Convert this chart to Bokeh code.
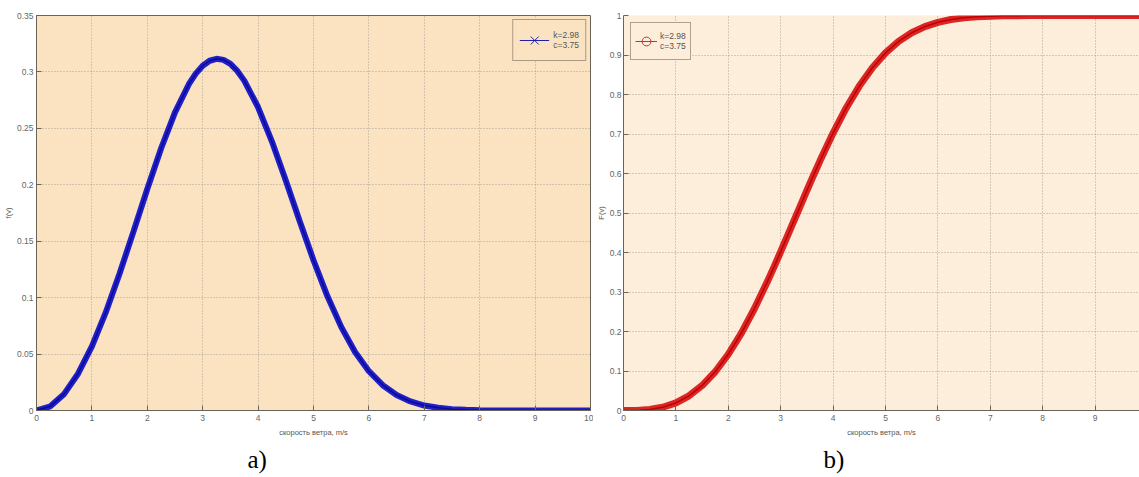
from bokeh.plotting import figure
from bokeh.layouts import row
from bokeh.models import Legend, LegendItem, Title, FixedTicker, ColumnDataSource
from bokeh.embed import file_html
from bokeh.resources import INLINE

# ---- data ----
wind_speed = [0.0, 0.25, 0.5, 0.75, 1.0, 1.25, 1.5, 1.75, 2.0, 2.25, 2.5, 2.75, 2.875, 3.0,
              3.125, 3.25, 3.375, 3.5, 3.625, 3.75, 4.0, 4.25, 4.5, 4.75, 5.0, 5.25, 5.5,
              5.75, 6.0, 6.25, 6.5, 6.75, 7.0, 7.25, 7.5, 7.75, 8.0, 8.25, 8.5, 8.75, 9.0,
              9.25, 9.5, 9.75, 10.0]
pdf_values = [0.0, 0.0037, 0.0147, 0.0326, 0.0569, 0.0869, 0.1214, 0.1585, 0.1963, 0.2324,
              0.2641, 0.2891, 0.2985, 0.3055, 0.3099, 0.3116, 0.3107, 0.3071, 0.3009, 0.2923,
              0.2687, 0.2383, 0.2038, 0.1679, 0.1331, 0.1014, 0.0741, 0.0519, 0.0348, 0.0224,
              0.0137, 0.0080, 0.0044, 0.0024, 0.0012, 0.0006, 0.0003, 0.0001, 0.0, 0.0, 0.0,
              0.0, 0.0, 0.0, 0.0]
cdf_values = [0.0, 0.0003, 0.0025, 0.0082, 0.0193, 0.0372, 0.0631, 0.0981, 0.1424, 0.1960,
              0.2582, 0.3276, 0.3643, 0.4020, 0.4406, 0.4794, 0.5183, 0.5570, 0.5950, 0.6321,
              0.7024, 0.7659, 0.8213, 0.8677, 0.9053, 0.9345, 0.9563, 0.9720, 0.9827, 0.9898,
              0.9942, 0.9969, 0.9984, 0.9992, 0.9996, 0.9998, 0.9999, 1.0, 1.0, 1.0, 1.0,
              1.0, 1.0, 1.0, 1.0]

x_ticks = [0, 1, 2, 3, 4, 5, 6, 7, 8, 9, 10]
x_tick_labels = ["0", "1", "2", "3", "4", "5", "6", "7", "8", "9", "10"]
y_ticks_a = [0, 0.05, 0.1, 0.15, 0.2, 0.25, 0.3, 0.35]
y_tick_labels_a = ["0", "0.05", "0.1", "0.15", "0.2", "0.25", "0.3", "0.35"]
y_ticks_b = [0, 0.1, 0.2, 0.3, 0.4, 0.5, 0.6, 0.7, 0.8, 0.9, 1.0]
y_tick_labels_b = ["0", "0.1", "0.2", "0.3", "0.4", "0.5", "0.6", "0.7", "0.8", "0.9", "1"]

legend_label = "k=2.98\nc=3.75"
x_label = "скорость ветра, m/s"
panel_labels = ["a)", "b)"]

SANS = "Liberation Sans"
AXIS_COL = "#6a6458"
GRID_COL = "#aaa292"


def style(p, yt, ytl, xmax, ystand):
    p.xaxis.ticker = FixedTicker(ticks=[t for t in x_ticks if t <= xmax])
    p.xaxis.major_label_overrides = {t: l for t, l in zip(x_ticks, x_tick_labels)}
    p.yaxis.ticker = FixedTicker(ticks=yt)
    p.yaxis.major_label_overrides = {t: l for t, l in zip(yt, ytl)}
    for ax in (p.xaxis[0], p.yaxis[0]):
        ax.major_tick_in = 5
        ax.major_tick_out = 0
        ax.minor_tick_line_color = None
        ax.axis_line_color = AXIS_COL
        ax.major_tick_line_color = AXIS_COL
        ax.major_label_text_font = SANS
        ax.major_label_text_font_size = "8.5px"
        ax.major_label_text_color = "#666666"
        ax.axis_label_text_font = SANS
        ax.axis_label_text_font_size = "7.5px"
        ax.axis_label_text_font_style = "normal"
        ax.axis_label_text_color = "#555555"
    p.xaxis.major_label_standoff = 4
    p.xaxis.axis_label_standoff = 4
    p.yaxis.major_label_standoff = ystand
    p.yaxis.axis_label_standoff = 1
    p.grid.grid_line_color = GRID_COL
    p.grid.grid_line_dash = "1 2"
    p.grid.grid_line_width = 1
    p.xgrid.ticker = p.xaxis.ticker
    p.ygrid.ticker = p.yaxis.ticker


def panel_title(text, offset):
    return Title(text=text, align="left", offset=offset, standoff=8,
                 text_font="Liberation Serif", text_font_size="25px",
                 text_font_style="normal", text_color="black")


src = ColumnDataSource(dict(v=wind_speed, f=pdf_values, F=cdf_values))

# ---------- panel a ----------
p1 = figure(width=593, height=477, x_range=(0, 10), y_range=(0, 0.35),
            output_backend="svg", toolbar_location=None,
            min_border_left=36, min_border_right=3, min_border_top=15, min_border_bottom=67)
p1.background_fill_color = "#fbe3c2"
p1.border_fill_color = "white"
p1.outline_line_color = AXIS_COL
style(p1, y_ticks_a, y_tick_labels_a, 10, 3)
p1.xaxis.axis_label = x_label
p1.yaxis.axis_label = "f(v)"

p1.line("v", "f", source=src, line_color="#1414c8", line_width=6, line_alpha=0.95)
p1.line("v", "f", source=src, line_color="#0a0a9a", line_width=1.5)

leg_line_a = p1.line(x=[float("nan")], y=[float("nan")], line_color="#2020a0", line_width=1)
leg_mark_a = p1.scatter(x=[float("nan")], y=[float("nan")], marker="x", size=4,
                        line_color="#2020a0", line_width=1)
leg_a = Legend(items=[LegendItem(label=legend_label, renderers=[leg_line_a, leg_mark_a])],
               location="top_right", margin=4, padding=6, spacing=0,
               glyph_width=30, glyph_height=28, label_standoff=4,
               label_text_font=SANS, label_text_font_size="8.5px", label_text_color="#555555",
               label_text_line_height=1.6,
               border_line_color="#5b5346", background_fill_color="#fbe3c2",
               background_fill_alpha=1.0)
p1.add_layout(leg_a)
p1.add_layout(panel_title(panel_labels[0], 211), "below")

# ---------- panel b ----------
xmax_b = (1139 - 623) / 52.4
p2 = figure(width=546, height=477, x_range=(0, xmax_b), y_range=(0, 1.0),
            output_backend="svg", toolbar_location=None,
            min_border_left=28, min_border_right=0, min_border_top=15, min_border_bottom=67)
p2.background_fill_color = "#fdeedc"
p2.border_fill_color = "white"
p2.outline_line_color = None
style(p2, y_ticks_b, y_tick_labels_b, xmax_b, 2)
p2.xaxis.axis_label = x_label
p2.yaxis.axis_label = "F(v)"

p2.line("v", "F", source=src, line_color="#d81a1a", line_width=7, line_alpha=0.95)
p2.line("v", "F", source=src, line_color="#c00000", line_width=1.5)

leg_line_b = p2.line(x=[float("nan")], y=[float("nan")], line_color="#c83030", line_width=1)
leg_mark_b = p2.scatter(x=[float("nan")], y=[float("nan")], marker="circle", size=6,
                        line_color="#c83030", fill_color=None, line_width=1)
leg_b = Legend(items=[LegendItem(label=legend_label, renderers=[leg_line_b, leg_mark_b])],
               location="top_left", margin=7, padding=4, spacing=0,
               glyph_width=22, glyph_height=28, label_standoff=3,
               label_text_font=SANS, label_text_font_size="8.5px", label_text_color="#555555",
               label_text_line_height=1.5,
               border_line_color="#5b5346", background_fill_color="#fdeedc",
               background_fill_alpha=1.0)
p2.add_layout(leg_b)
p2.add_layout(panel_title(panel_labels[1], 200), "below")

layout = row(p1, p2, spacing=0)
open("out.html", "w").write(file_html(layout, INLINE))
